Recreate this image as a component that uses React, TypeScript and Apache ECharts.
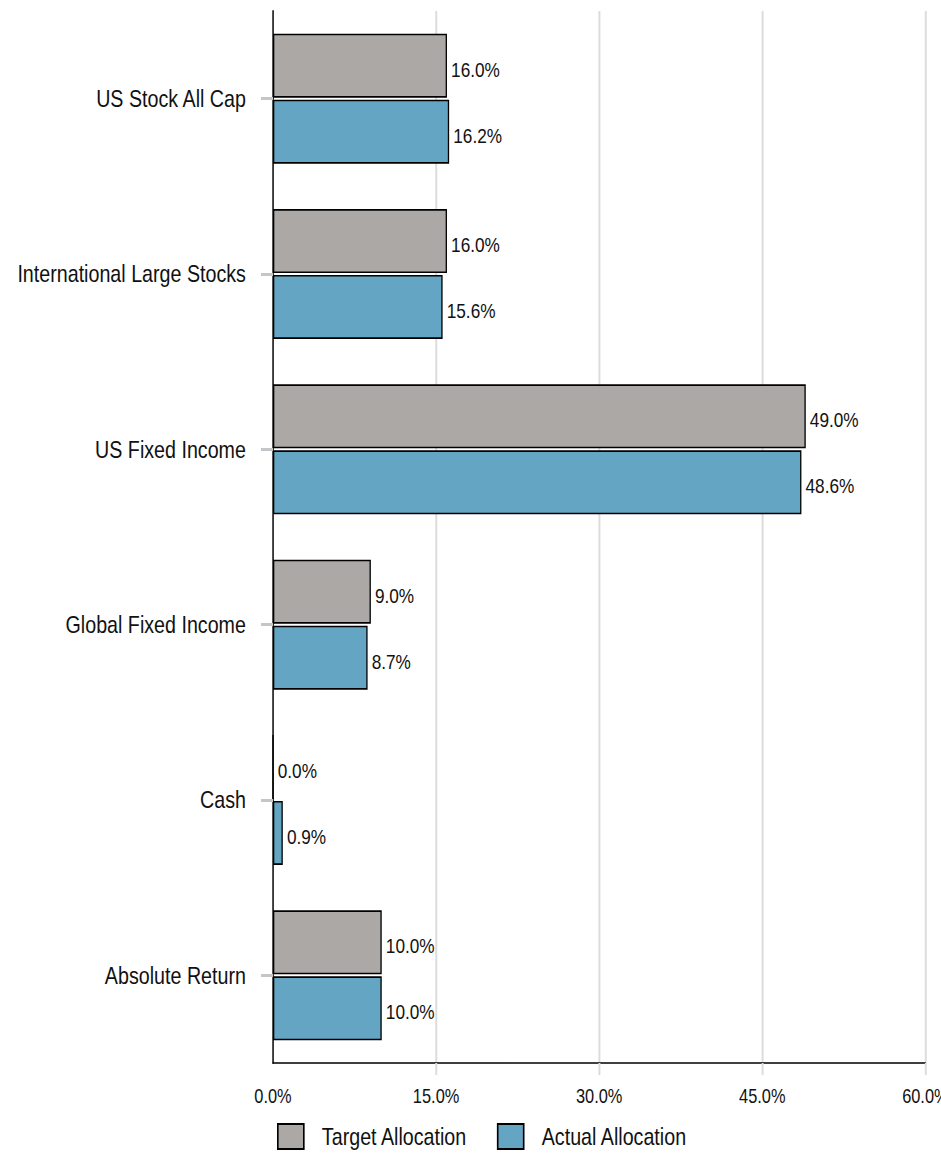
import React, { useEffect, useRef } from "react";
import * as echarts from "echarts";

const categories = [
  "US Stock All Cap",
  "International Large Stocks",
  "US Fixed Income",
  "Global Fixed Income",
  "Cash",
  "Absolute Return",
];
const targetAllocation = [16.0, 16.0, 49.0, 9.0, 0.0, 10.0];
const actualAllocation = [16.2, 15.6, 48.6, 8.7, 0.9, 10.0];
const xTicks = [0, 15, 30, 45, 60];

// Arial-metric font, compressed horizontally to look like Arial Narrow
const FONT = "'Liberation Sans', Arial, sans-serif";
const SX = 0.82;
const W = 941 / SX;
const H = 1154;
const pct = (v: number) => v.toFixed(1) + "%";

export default function App() {
  const ref = useRef<HTMLDivElement>(null);
  useEffect(() => {
    if (!ref.current) return;
    const chart = echarts.init(ref.current, undefined, { renderer: "svg" });
    const labelStyle = {
      show: true,
      position: "right" as const,
      distance: 5,
      offset: [0, 4],
      fontFamily: FONT,
      fontSize: 21,
      color: "#111",
      formatter: (p: any) => pct(p.value),
    };
    chart.setOption({
      animation: false,
      textStyle: { fontFamily: FONT },
      grid: {
        left: 273 / SX,
        right: W - 925 / SX,
        top: 11,
        bottom: 91,
        containLabel: false,
        outerBoundsMode: "none",
      },
      legend: {
        top: 1123,
        left: 277 / SX,
        padding: 0,
        itemWidth: 26 / SX,
        itemHeight: 25,
        itemGap: 36,
        icon: "rect",
        textStyle: { fontFamily: FONT, fontSize: 24, color: "#111", padding: [0, 0, 0, 17] },
        data: ["Target Allocation", "Actual Allocation"],
      },
      xAxis: {
        type: "value",
        min: xTicks[0],
        max: xTicks[xTicks.length - 1],
        interval: 15,
        axisLine: { show: true, lineStyle: { color: "#000", width: 1.5 } },
        axisTick: {
          show: true,
          length: 12,
          customValues: xTicks.slice(1),
          lineStyle: { color: "#dcdcdc", width: 2.4 },
        },
        axisLabel: {
          fontFamily: FONT,
          fontSize: 20,
          color: "#111",
          margin: 23,
          formatter: (v: number) => pct(v),
        },
        splitLine: { show: true, lineStyle: { color: "#dcdcdc", width: 2.4 } },
      },
      yAxis: {
        type: "category",
        inverse: true,
        data: categories,
        axisLine: { show: true, lineStyle: { color: "#000", width: 1.8 } },
        axisTick: {
          show: true,
          alignWithLabel: true,
          length: 12 / SX,
          lineStyle: { color: "#c4c7ca", width: 3 },
        },
        axisLabel: {
          fontFamily: FONT,
          fontSize: 24,
          color: "#111",
          margin: 33,
          padding: [6, 0, 0, 0],
        },
        splitLine: { show: false },
      },
      series: [
        {
          name: "Target Allocation",
          type: "bar",
          data: targetAllocation,
          barWidth: 64,
          barGap: "3%",
          itemStyle: { color: "#aca8a6", borderColor: "#000", borderWidth: 1.6 },
          label: labelStyle,
        },
        {
          name: "Actual Allocation",
          type: "bar",
          data: actualAllocation,
          barWidth: 64,
          barGap: "3%",
          itemStyle: { color: "#63a5c3", borderColor: "#000", borderWidth: 1.6 },
          label: labelStyle,
        },
      ],
    });
    return () => chart.dispose();
  }, []);
  return (
    <div style={{ position: "absolute", left: 0, top: 0, width: 941, height: H, overflow: "hidden" }}>
      <div
        ref={ref}
        style={{ width: W, height: H, transform: `scaleX(${SX})`, transformOrigin: "0 0" }}
      />
    </div>
  );
}
